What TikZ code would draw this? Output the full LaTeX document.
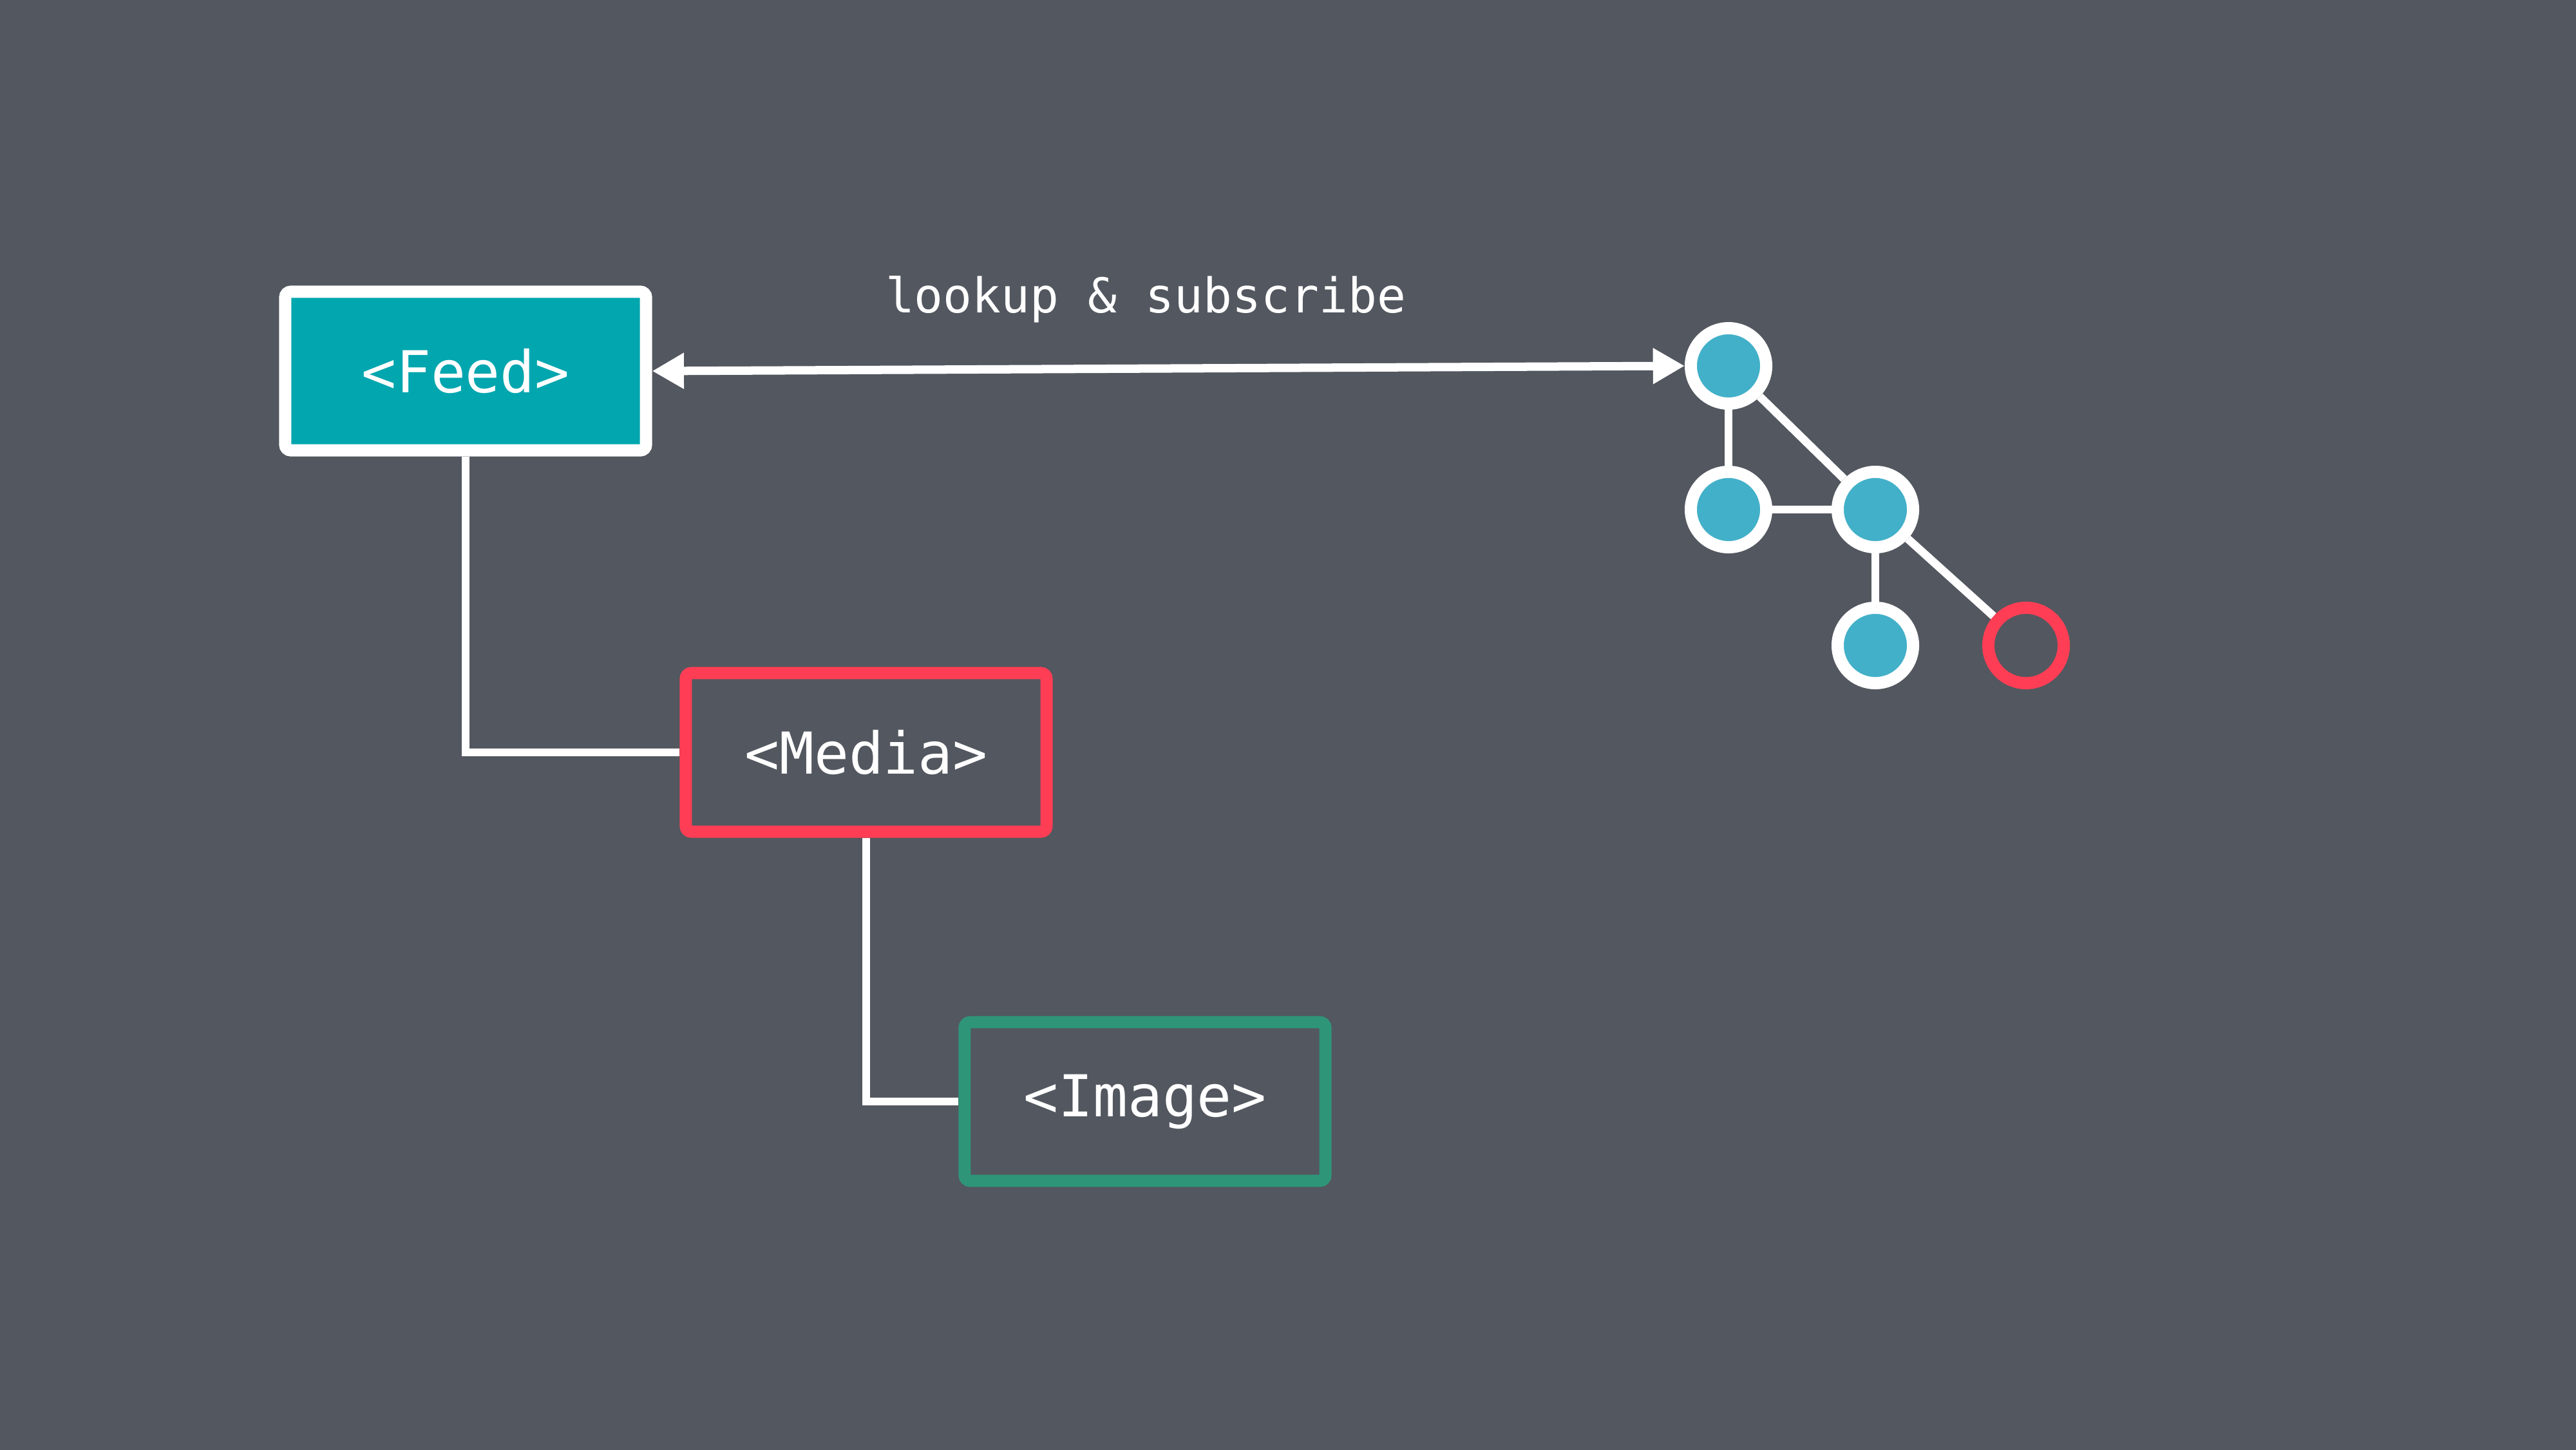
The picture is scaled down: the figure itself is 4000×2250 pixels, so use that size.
\documentclass[tikz,border=0pt]{standalone}
\usepackage{fontspec}
\setmonofont{DejaVu Sans Mono}
\usetikzlibrary{arrows.meta}
\definecolor{bg}{RGB}{83,87,95}
\definecolor{feedfill}{RGB}{2,166,174}
\definecolor{redc}{RGB}{255,62,85}
\definecolor{greenc}{RGB}{46,149,121}
\definecolor{bluec}{RGB}{66,176,201}
\tikzset{
  box/.style={rectangle, rounded corners=2.5pt, line width=5.4pt, minimum width=5.6cm, minimum height=2.46cm, inner sep=0pt, text=white, font=\ttfamily\fontsize{25.5}{30}\selectfont},
  gnode/.style={circle, line width=5.4pt, minimum size=1.17cm, inner sep=0pt},
  wire/.style={draw=white, line width=3.4pt},
  edge/.style={draw=white, line width=3.6pt},
}
\begin{document}
\begin{tikzpicture}[x=0.01cm,y=-0.01cm]
\useasboundingbox (0,0) rectangle (4000,2250);
\fill[bg] (-20,-20) rectangle (4020,2270);
\node[box, draw=white, fill=feedfill] (feed) at (723,576) {<Feed>};
\node[box, draw=redc] (media) at (1345,1168) {<Media>};
\node[box, draw=greenc] (image) at (1778,1710) {<Image>};
\node[gnode, draw=white, fill=bluec] (g1) at (2684,568) {};
\node[gnode, draw=white, fill=bluec] (g2) at (2684,791) {};
\node[gnode, draw=white, fill=bluec] (g3) at (2912,791) {};
\node[gnode, draw=white, fill=bluec] (g4) at (2912,1002) {};
\node[gnode, draw=redc] (g5) at (3146,1002) {};
\node[text=white, anchor=base, font=\ttfamily\fontsize{21.2}{25}\selectfont] (lbl) at (1779,485) {lookup \& subscribe};
\draw[wire] (feed.south) |- (media.west);
\draw[wire] (media.south) |- (image.west);
\draw[draw=white, line width=3.7pt, {Triangle[length=14pt,width=15pt]}-{Triangle[length=14pt,width=15pt]}] (feed.east) -- (g1.west);
\draw[edge] (g1) -- (g2);
\draw[edge] (g1) -- (g3);
\draw[edge] (g2) -- (g3);
\draw[edge] (g3) -- (g4);
\draw[edge] (g3) -- (g5);
\end{tikzpicture}
\end{document}
